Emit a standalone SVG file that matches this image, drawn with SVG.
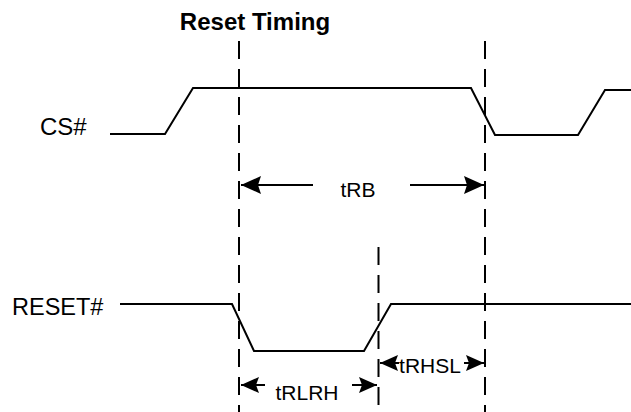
<svg xmlns="http://www.w3.org/2000/svg" width="631" height="412" viewBox="0 0 631 412">
<style>
.wave{fill:none;stroke:#000;stroke-width:2;stroke-linejoin:miter}
.dash{fill:none;stroke:#000;stroke-width:2;stroke-dasharray:18 10}
.conn{fill:none;stroke:#000;stroke-width:2}
.lbl{font-family:"Liberation Sans",Arial,sans-serif;fill:#000}
</style>
<defs>
<marker id="ahL" markerUnits="userSpaceOnUse" markerWidth="22" markerHeight="20" refX="20" refY="9" orient="auto">
<path d="M0,0 L20,9 L0,18 L3,9 z" fill="#000"/>
</marker>
<marker id="ahS" markerUnits="userSpaceOnUse" markerWidth="20" markerHeight="18" refX="18" refY="8" orient="auto">
<path d="M0,0 L18,8 L0,16 L3,8 z" fill="#000"/>
</marker>
</defs>
<rect width="631" height="412" fill="#fff"/>
<text class="lbl" x="255" y="30" font-size="24" font-weight="bold" text-anchor="middle">Reset Timing</text>
<g id="guides">
<line class="dash" x1="239" y1="41" x2="239" y2="412"/>
<line class="dash" x1="485" y1="41" x2="485" y2="412"/>
<line class="dash" x1="378.5" y1="247" x2="378.5" y2="412"/>
</g>
<g id="cs">
<text class="lbl" x="40" y="135" font-size="24">CS#</text>
<polyline class="wave" points="110,134 165,134 193,88 471,88 495,135 578,135 605,90 631,90"/>
</g>
<g id="reset">
<text class="lbl" x="12" y="315" font-size="23.5">RESET#</text>
<polyline class="wave" points="120,304 232,304 254,351 364,351 391,304 631,304"/>
</g>
<g id="connectors">
<line class="conn" x1="313" y1="185" x2="241" y2="185" marker-end="url(#ahL)"/>
<line class="conn" x1="410" y1="185" x2="484" y2="185" marker-end="url(#ahL)"/>
<line class="conn" x1="265" y1="385" x2="241" y2="385" marker-end="url(#ahS)"/>
<line class="conn" x1="352" y1="385" x2="377" y2="385" marker-end="url(#ahS)"/>
<line class="conn" x1="399" y1="363" x2="380" y2="363" marker-end="url(#ahS)"/>
<line class="conn" x1="464" y1="363" x2="484" y2="363" marker-end="url(#ahS)"/>
</g>
<g id="labels">
<text class="lbl" x="358" y="197" font-size="21" text-anchor="middle">tRB</text>
<text class="lbl" x="307" y="400" font-size="21" text-anchor="middle">tRLRH</text>
<text class="lbl" x="430" y="373" font-size="21" text-anchor="middle">tRHSL</text>
</g>
</svg>
